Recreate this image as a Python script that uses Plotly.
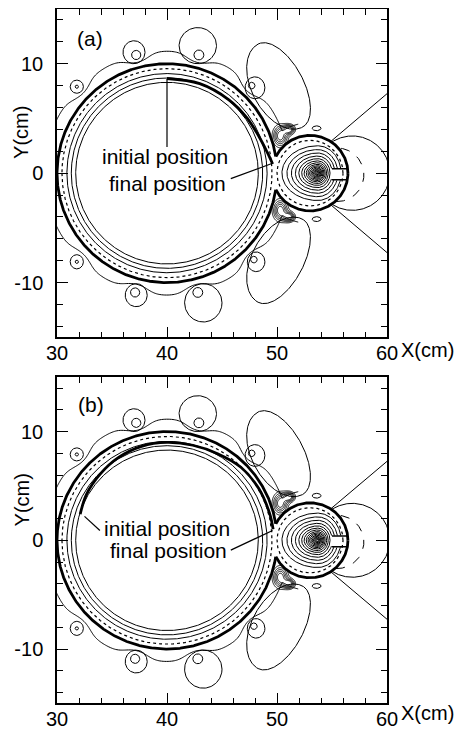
import numpy as np
import plotly.graph_objects as go

FONT = "Liberation Sans, Arial, Helvetica, sans-serif"

# ---------------- data (cm) ----------------
x_range = [30, 60]
y_range = [-15, 15]
x_tick_vals = [30, 40, 50, 60]
x_tick_text = ["30", "40", "50", "60"]
y_tick_vals = [-10, 0, 10]
y_tick_text = ["-10", "0", "10"]
x_minor_ticks = [32, 34, 36, 38, 42, 44, 46, 48, 52, 54, 56, 58]
y_minor_ticks = [-14, -12, -8, -6, -4, -2, 2, 4, 6, 8, 12, 14]
panel_labels = ["(a)", "(b)"]

big_center = [40.0, 0.0]
big_radius = 10.0
small_center = [53.0, 0.0]
small_radius = 3.45

ring_dotted_offset = -0.45
big_ring_radii = [8.3, 8.7, 9.1]          # thin solid rings inside the big drop

# nested contours inside the small drop (asymmetric ovals)
core_center = [53.7, 0.0]
core_stretch_left = 1.3
core_stretch_right = 0.85
core_levels = [0.08, 0.15, 0.22, 0.3, 0.38, 0.47, 0.57, 0.68, 0.8, 0.95, 1.12, 1.32, 1.56, 1.84, 2.15, 2.5]

# vortex loops around the drop: inner loop centre / radius, outer loop centre / semi-axes
vort_in_x = [31.8, 37.2, 42.9, 47.7, 31.8, 37.1, 42.8, 47.9]
vort_in_y = [7.9, 10.8, 10.8, 8.0, -8.1, -10.9, -10.9, -7.9]
vort_in_r = [0.15, 0.42, 0.45, 0.3, 0.15, 0.42, 0.45, 0.3]
vort_out_x = [31.8, 37.0, 42.8, 48.0, 31.8, 37.2, 43.3, 48.1]
vort_out_y = [7.9, 11.05, 11.65, 7.8, -8.1, -11.15, -11.85, -8.1]
vort_out_a = [0.6, 1.0, 1.7, 0.9, 0.6, 1.0, 1.7, 0.8]
vort_out_b = [0.6, 1.05, 1.65, 1.0, 0.65, 1.05, 1.75, 0.9]

# small eddies beside the small drop
eddy_x = [53.6, 53.6]
eddy_y = [4.1, -4.2]
eddy_a = [0.4, 0.4]
eddy_b = [0.22, 0.22]

# wavy envelope line
wave_level = 1.15
wave_gain = 0.9
wave_sigma = 0.9

# lobes above / below the neck
lobe_x = [50.3, 50.3]
lobe_y = [8.0, -8.0]
lobe_angle = [118.0, -118.0]
lobe_a = [4.3, 4.3]
lobe_b_right = [2.1, 2.1]
lobe_b_left = [2.6, 2.6]

# field lines leaving the small drop
ray_origin = [51.5, 0.0]
ray_angles = [40.5, -40.5]
arc_solid_center = [56.85, 0.0]
arc_solid_radius = 3.4
arc_dashed_center = [55.45, -0.15]
arc_dashed_radius = 2.45

# dense knots at the neck
knot_x = [50.3, 51.1, 50.3, 51.1]
knot_y = [3.4, 4.0, -3.4, -4.0]
knot_sx = [0.45, 0.35, 0.45, 0.35]
knot_sy = [0.65, 0.3, 0.65, 0.3]
knot_levels = [0.25, 0.4, 0.55, 0.7, 0.85]

# slot in the small drop
notch_x = [55.0, 56.45]
notch_y = [0.4, -0.6]

# thick "final" contour arcs (angle deg about big centre, radius)
final_a_angles = [90, 70, 50, 35, 22, 12, 5]
final_a_radii = [8.65, 8.7, 8.75, 8.85, 9.0, 9.3, 9.64]
final_b_angles = [163, 150, 135, 120, 105, 90, 75, 60, 45, 30, 15, 6]
final_b_radii = [8.25, 8.45, 8.6, 8.8, 8.95, 9.0, 9.05, 9.2, 9.5, 9.6, 9.65, 9.7]

# labels and pointers
init_text_xy = [[39.8, 1.5], [40.0, 1.1]]
final_text_xy = [[40.0, -0.9], [40.1, -0.95]]
init_ptr_x = [[40.0, 40.0], [33.9, 32.5]]
init_ptr_y = [[2.4, 8.6], [0.9, 2.2]]
final_ptr_x = [[45.8, 49.6], [45.8, 49.6]]
final_ptr_y = [[-0.5, 0.9], [-0.9, 0.9]]
panel_label_xy = [[33.0, 12.3], [33.1, 12.5]]
xlabel_paper_xy = [[1.124, 0.513], [1.124, -0.006]]
ylabel_paper_xy = [[-0.107, 0.824], [-0.107, 0.299]]


# ---------------- helpers ----------------
def r_big(x, y):
    return np.hypot(x - big_center[0], y - big_center[1])


def r_small(x, y):
    return np.hypot(x - small_center[0], y - small_center[1])


def union_sdf(x, y):
    return np.minimum(r_big(x, y) - big_radius, r_small(x, y) - small_radius)


def masked(px, py, keep):
    ox = np.where(keep, np.round(px, 4), np.nan)
    oy = np.where(keep, np.round(py, 4), np.nan)
    lx = [None if np.isnan(v) else float(v) for v in ox] + [None]
    ly = [None if np.isnan(v) else float(v) for v in oy] + [None]
    return lx, ly


def union_ring(offset):
    Rb, Rs = big_radius + offset, small_radius + offset
    t = np.radians(np.linspace(-180, 180, 1441))
    bx, by = big_center[0] + Rb * np.cos(t), big_center[1] + Rb * np.sin(t)
    x1, y1 = masked(bx, by, r_small(bx, by) >= Rs)
    t = np.radians(np.linspace(0, 360, 721))
    sx, sy = small_center[0] + Rs * np.cos(t), small_center[1] + Rs * np.sin(t)
    x2, y2 = masked(sx, sy, r_big(sx, sy) >= Rb)
    return x1 + x2, y1 + y2


def ellipse(cx, cy, a, b, n=121, a_left=None):
    t = np.linspace(0, 2 * np.pi, n)
    c = np.cos(t)
    al = a if a_left is None else a_left
    px = cx + np.where(c >= 0, a, al) * c
    py = cy + b * np.sin(t)
    return px, py


def line_trace(x, y, xa, ya, width=1.0, dash="solid", shape="linear"):
    return go.Scatter(x=x, y=y, mode="lines", hoverinfo="skip", xaxis=xa, yaxis=ya,
                      line=dict(color="black", width=width, dash=dash, shape=shape))


def grid(x0, x1, y0, y1, step):
    xs = np.round(np.arange(x0, x1 + step / 2, step), 3)
    ys = np.round(np.arange(y0, y1 + step / 2, step), 3)
    X, Y = np.meshgrid(xs, ys)
    return xs, ys, X, Y


def to_z(Z, mask):
    Z = np.round(Z, 4).astype(object)
    Z[mask] = None
    return Z.tolist()


def contour(xs, ys, z, start, end, size, xa, ya, width=1.0):
    return go.Contour(
        x=xs.tolist(), y=ys.tolist(), z=z, autocontour=False,
        contours=dict(start=start, end=end, size=size, coloring="none", showlabels=False),
        line=dict(color="black", width=width, smoothing=0.8),
        showscale=False, hoverinfo="skip", xaxis=xa, yaxis=ya,
    )


# ---------------- geometry built from the data ----------------
thick_x, thick_y = union_ring(0.0)
dot_x, dot_y = union_ring(ring_dotted_offset)

rings_x, rings_y = [], []
for R in big_ring_radii:
    t = np.radians(np.linspace(-180, 180, 721))
    px, py = big_center[0] + R * np.cos(t), big_center[1] + R * np.sin(t)
    a, b = masked(px, py, np.ones_like(px, dtype=bool))
    rings_x += a
    rings_y += b
for c in core_levels:
    px, py = ellipse(core_center[0], core_center[1], core_stretch_right * c, c,
                     n=181, a_left=core_stretch_left * c)
    keep = ~((px > 54.95) & (np.abs(py + 0.1) < 0.5) & (c > 0.9))
    a, b = masked(px, py, keep)
    rings_x += a
    rings_y += b

loops_x, loops_y = [], []
for i in range(len(vort_in_x)):
    px, py = ellipse(vort_in_x[i], vort_in_y[i], vort_in_r[i], vort_in_r[i], n=61)
    a, b = masked(px, py, np.ones_like(px, dtype=bool))
    loops_x += a
    loops_y += b
    px, py = ellipse(vort_out_x[i], vort_out_y[i], vort_out_a[i], vort_out_b[i], n=121)
    a, b = masked(px, py, np.ones_like(px, dtype=bool))
    loops_x += a
    loops_y += b
for i in range(len(eddy_x)):
    px, py = ellipse(eddy_x[i], eddy_y[i], eddy_a[i], eddy_b[i], n=61)
    a, b = masked(px, py, np.ones_like(px, dtype=bool))
    loops_x += a
    loops_y += b

lobes_x, lobes_y = [], []
for lx, ly, ang, a_, br, bl in zip(lobe_x, lobe_y, lobe_angle, lobe_a, lobe_b_right, lobe_b_left):
    th = np.radians(ang)
    t = np.linspace(0, 2 * np.pi, 361)
    u = a_ * np.cos(t)
    side = np.sign(np.sin(th))
    s = np.sin(t)
    v = np.where(s * side < 0, br, bl) * s
    px = lx + u * np.cos(th) - v * np.sin(th)
    py = ly + u * np.sin(th) + v * np.cos(th)
    a, b = masked(px, py, union_sdf(px, py) > 0.1)
    lobes_x += a
    lobes_y += b

rays_x, rays_y = [], []
for ang in ray_angles:
    s = np.linspace(0, 16, 321)
    px = ray_origin[0] + s * np.cos(np.radians(ang))
    py = ray_origin[1] + s * np.sin(np.radians(ang))
    a, b = masked(px, py, union_sdf(px, py) > 0.0)
    rays_x += a
    rays_y += b

t = np.radians(np.linspace(-180, 180, 721))
px = arc_solid_center[0] + arc_solid_radius * np.cos(t)
py = arc_solid_center[1] + arc_solid_radius * np.sin(t)
arcs_x, arcs_y = masked(px, py, union_sdf(px, py) > 0.0)
px = arc_dashed_center[0] + arc_dashed_radius * np.cos(t)
py = arc_dashed_center[1] + arc_dashed_radius * np.sin(t)
dash_x, dash_y = masked(px, py, union_sdf(px, py) > 0.05)

# wavy envelope (contour)
wxs, wys, WX, WY = grid(29.0, 52, -14, 14, 0.15)
WD = union_sdf(WX, WY)
H = WD.copy()
for vx, vy in zip(vort_in_x, vort_in_y):
    H = H + wave_gain * np.exp(-((WX - vx) ** 2 + (WY - vy) ** 2) / (2 * wave_sigma ** 2))
wave_z = to_z(H, WD < 0.05)

# knots at the neck (contour)
kxs, kys, KX, KY = grid(48.5, 52.5, -5.5, 5.5, 0.06)
KD = union_sdf(KX, KY)
K = np.zeros(KX.shape)
for kx, ky, sx, sy in zip(knot_x, knot_y, knot_sx, knot_sy):
    K = K + np.exp(-0.5 * (((KX - kx) / sx) ** 2 + ((KY - ky) / sy) ** 2))
knot_z = to_z(K, KD < 0.02)

# ---------------- figure ----------------
fig = go.Figure()
axes = [("x", "y"), ("x2", "y2")]
finals = [(final_a_angles, final_a_radii), (final_b_angles, final_b_radii)]

for p, (xa, ya) in enumerate(axes):
    fig.add_trace(contour(wxs, wys, wave_z, wave_level, wave_level, 1, xa, ya))
    fig.add_trace(contour(kxs, kys, knot_z, knot_levels[0], knot_levels[-1],
                          knot_levels[1] - knot_levels[0], xa, ya, width=0.9))
    fig.add_trace(line_trace(rings_x, rings_y, xa, ya, width=1.0))
    fig.add_trace(line_trace(dot_x, dot_y, xa, ya, width=1.2, dash="dot"))
    fig.add_trace(line_trace(loops_x, loops_y, xa, ya, width=1.0))
    fig.add_trace(line_trace(lobes_x, lobes_y, xa, ya, width=1.0))
    fig.add_trace(line_trace(rays_x, rays_y, xa, ya, width=1.0))
    fig.add_trace(line_trace(arcs_x, arcs_y, xa, ya, width=1.0))
    fig.add_trace(line_trace(dash_x, dash_y, xa, ya, width=1.0, dash="dash"))
    fig.add_trace(line_trace(thick_x, thick_y, xa, ya, width=2.8))
    ang, rad = finals[p]
    tt = np.radians(ang)
    fig.add_trace(line_trace((big_center[0] + np.array(rad) * np.cos(tt)).tolist(),
                             (big_center[1] + np.array(rad) * np.sin(tt)).tolist(),
                             xa, ya, width=2.8, shape="spline"))
    nx, ny = [], []
    for yy in notch_y:
        nx += notch_x + [None]
        ny += [yy, yy, None]
    fig.add_trace(line_trace(nx, ny, xa, ya, width=1.6))
    fig.add_trace(line_trace(init_ptr_x[p], init_ptr_y[p], xa, ya, width=1.2))
    fig.add_trace(line_trace(final_ptr_x[p], final_ptr_y[p], xa, ya, width=1.2))

annotations = []
tf = dict(family=FONT, size=21, color="black")
for p, (xa, ya) in enumerate(axes):
    annotations += [
        dict(x=panel_label_xy[p][0], y=panel_label_xy[p][1], xref=xa, yref=ya,
             text=panel_labels[p], showarrow=False, font=tf),
        dict(x=init_text_xy[p][0], y=init_text_xy[p][1], xref=xa, yref=ya,
             text="initial position", showarrow=False, font=tf),
        dict(x=final_text_xy[p][0], y=final_text_xy[p][1], xref=xa, yref=ya,
             text="final position", showarrow=False, font=tf),
        dict(x=xlabel_paper_xy[p][0], y=xlabel_paper_xy[p][1], xref="paper", yref="paper",
             text="X(cm)", showarrow=False, font=dict(family=FONT, size=20, color="black"),
             xanchor="center", yanchor="middle", borderpad=0),
        dict(x=ylabel_paper_xy[p][0], y=ylabel_paper_xy[p][1], xref="paper", yref="paper",
             text="Y(cm)", showarrow=False, textangle=-90,
             font=dict(family=FONT, size=20, color="black"),
             xanchor="center", yanchor="middle", borderpad=0),
    ]

common = dict(
    showgrid=False, zeroline=False, showline=True, linecolor="black", linewidth=1.5,
    mirror="ticks", ticks="inside", ticklen=11, tickwidth=1.2, tickcolor="black",
    tickmode="array", automargin=False, layer="above traces",
    tickfont=dict(family=FONT, size=20, color="black"),
)
xminor = dict(ticks="inside", ticklen=6, tickwidth=1, tickcolor="black",
              tickmode="array", tickvals=x_minor_ticks, showgrid=False)
yminor = dict(ticks="inside", ticklen=6, tickwidth=1, tickcolor="black",
              tickmode="array", tickvals=y_minor_ticks, showgrid=False)

# the page body adds an 8 px offset, so the figure is 8 px smaller on each axis
fig.update_layout(
    template="none",
    width=456, height=724, margin=dict(l=49, r=77, t=1, b=23, autoexpand=False),
    plot_bgcolor="white", paper_bgcolor="white", showlegend=False,
    annotations=annotations,
    xaxis=dict(domain=[0, 1], anchor="y", range=x_range, tickvals=x_tick_vals,
               ticktext=x_tick_text, ticklabelstandoff=-3, minor=xminor, **common),
    yaxis=dict(domain=[0.531, 1], anchor="x", range=y_range, tickvals=y_tick_vals,
               ticktext=y_tick_text, ticklabelstandoff=8, minor=yminor, **common),
    xaxis2=dict(domain=[0, 1], anchor="y2", range=x_range, tickvals=x_tick_vals,
                ticktext=x_tick_text, ticklabelstandoff=-3, minor=xminor, **common),
    yaxis2=dict(domain=[0.008, 0.474], anchor="x2", range=y_range, tickvals=y_tick_vals,
                ticktext=y_tick_text, ticklabelstandoff=8, minor=yminor, **common),
)

fig.write_html("out.html")
